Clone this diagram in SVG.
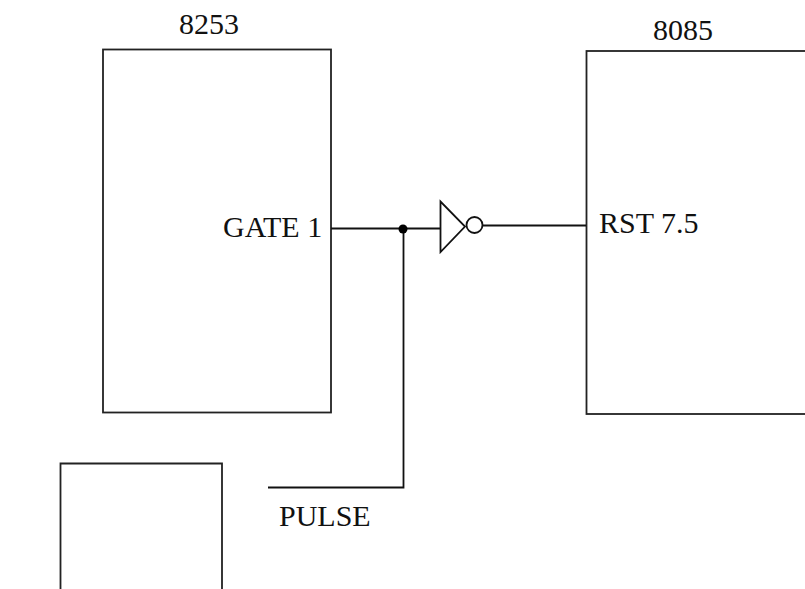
<svg xmlns="http://www.w3.org/2000/svg" width="805" height="589" viewBox="0 0 805 589">
<style>
.b{fill:none;stroke:#222;stroke-width:1.8}
.w{fill:none;stroke:#111;stroke-width:1.8}
text{font-family:"Liberation Serif",serif;font-size:30px;fill:#111}
</style>
<rect width="805" height="589" fill="#fff"/>
<g id="node-8253"><rect class="b" x="103" y="49.500" width="228" height="363"/><text x="179" y="34">8253</text><text x="223" y="237">GATE 1</text></g>
<g id="node-8085"><rect class="b" x="586.500" y="51" width="230" height="363"/><text x="653" y="40">8085</text><text x="599" y="233">RST 7.5</text></g>
<g id="node-box"><path class="b" d="M60.500 589V463.500H222V589"/></g>
<g id="node-inverter"><path class="w" d="M440.500 201.500V252L465 226.500Z"/><circle class="w" cx="474.500" cy="225" r="8"/></g>
<g id="connectors">
<path class="w" d="M331 228.500H440"/>
<path class="w" d="M483 225.500H586"/>
<path class="w" d="M403.500 228.500V487.500H268"/>
<circle cx="403" cy="229" r="4.500" fill="#000"/>
</g>
<text id="label-pulse" x="279" y="526">PULSE</text>
</svg>
